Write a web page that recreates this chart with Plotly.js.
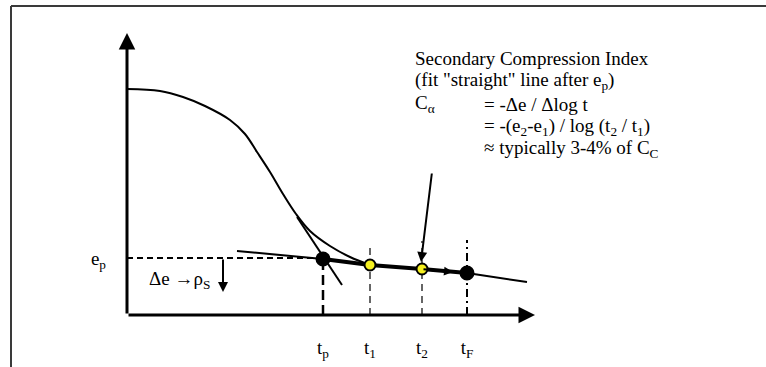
<!DOCTYPE html>
<html>
<head>
<meta charset="utf-8">
<script src="https://cdn.plot.ly/plotly-3.0.1.min.js"></script>
<style>html,body{margin:0;padding:0;background:#fff;}#chart{width:766px;height:367px;}</style>
</head>
<body>
<div id="chart"></div>
<script>
// ---- data (log time, void ratio; schematic units) ----
const curveLogT = [0.00, 0.33, 0.56, 0.78, 1.03, 1.18, 1.30, 1.43, 1.56, 1.69, 1.83, 2.03, 2.23, 2.43];
const curveE    = [2.26, 2.24, 2.18, 2.09, 1.95, 1.81, 1.63, 1.43, 1.21, 1.01, 0.84, 0.69, 0.58, 0.50];

const tangentLogT = [1.70, 2.15];
const tangentE    = [0.98, 0.30];

const secondaryLogT = [1.10, 1.96, 2.43, 2.95, 3.40, 4.00];
const secondaryE    = [0.64, 0.56, 0.50, 0.46, 0.42, 0.33];

const ep = 0.57;
const tickNames = ["t<sub>p</sub>", "t<sub>1</sub>", "t<sub>2</sub>", "t<sub>F</sub>"];
const tickLogT  = [1.96, 2.43, 2.95, 3.40];
const tickE     = [0.56, 0.50, 0.46, 0.42];
const guideTopE = [0.57, 0.72, 0.74, 0.75];

const axisMaxLogT = 4.08;
const axisMaxE = 2.82;

const FONT = "Liberation Serif";
const traces = [];

traces.push({x: curveLogT, y: curveE, mode: "lines", line: {color: "#000", width: 2, shape: "spline"}, hoverinfo: "skip"});
traces.push({x: tangentLogT, y: tangentE, mode: "lines", line: {color: "#000", width: 2}, hoverinfo: "skip"});
traces.push({x: secondaryLogT, y: secondaryE, mode: "lines", line: {color: "#000", width: 2}, hoverinfo: "skip"});
traces.push({x: secondaryLogT.slice(1, 5), y: secondaryE.slice(1, 5), mode: "lines", line: {color: "#000", width: 4}, hoverinfo: "skip"});
traces.push({x: [0, tickLogT[0]], y: [ep, ep], mode: "lines", line: {color: "#000", width: 2, dash: "6px,4px"}, hoverinfo: "skip"});
const guideStyles = [
  {width: 2.5, dash: "10px,5px"},
  {width: 1.2, dash: "7px,5px"},
  {width: 1.2, dash: "7px,5px"},
  {width: 2, dash: "8px,4px,2px,4px"}
];
tickLogT.forEach((v, i) => {
  traces.push({x: [v, v], y: [0, guideTopE[i]], mode: "lines",
    line: {color: "#000", width: guideStyles[i].width, dash: guideStyles[i].dash}, hoverinfo: "skip"});
});
const pointColors = ["#000", "#f5f020", "#f5f020", "#000"];
traces.push({x: tickLogT, y: tickE, mode: "markers",
  marker: {color: pointColors, opacity: 1, size: [13, 11, 11, 13], line: {color: "#000", width: 2}}, hoverinfo: "skip"});

function px2paperX(px) { return (px - 127) / 408; }
function px2paperY(py) { return (315 - py) / 282; }

function txt(text, x, y, xanchor, size) {
  return {text: text, x: x, y: y, xref: "x", yref: "y", xanchor: xanchor || "left", yanchor: "middle",
    showarrow: false, font: {family: FONT, size: size || 19, color: "#000"}};
}
function arrow(x, y, ax, ay, width, head, size) {
  return {x: x, y: y, ax: ax, ay: ay, xref: "x", yref: "y", axref: "x", ayref: "y", text: "",
    showarrow: true, arrowhead: head, arrowwidth: width, arrowsize: size, arrowcolor: "#000", standoff: 0, startstandoff: 0};
}

const annotations = [
  arrow(0, axisMaxE, 0, 0, 3, 2, 1.1),
  arrow(axisMaxLogT, 0, 0, 0, 3, 2, 1.1),
  arrow(0.96, 0.23, 0.96, 0.57, 2, 2, 1.0),
  arrow(2.94, 0.53, 3.05, 1.43, 2, 2, 1.0),
  arrow(3.26, 0.43, 2.95, 0.46, 2, 2, 0.9),
  txt("Void", -0.50, 2.32, "center"),
  txt("Ratio, e", -0.50, 2.02, "center"),
  txt("(from dial", -0.50, 1.74, "center"),
  txt("readings)", -0.50, 1.45, "center"),
  txt("Secondary Compression Index", 2.86, 2.57),
  txt("(fit \"straight\" line after e<sub>p</sub>)", 2.86, 2.34),
  txt("C<sub>α</sub>", 2.86, 2.11),
  txt("= -Δe / Δlog t", 3.55, 2.11),
  txt("= -(e<sub>2</sub>-e<sub>1</sub>) / log (t<sub>2</sub> / t<sub>1</sub>)", 3.55, 1.88),
  txt("≈ typically 3-4% of C<sub>C</sub>", 3.55, 1.66),
  txt("e<sub>p</sub>= void ratio at end of", 4.26, 0.50),
  txt("primary consolidation", 4.51, 0.27),
  txt("Δe →ρ<sub>S</sub>", 0.20, 0.35, "left", 19),
  txt("log time, t", 0.97, -0.32, "center")
];

const shapes = [
  {type: "line", xref: "paper", yref: "paper", x0: px2paperX(11), y0: px2paperY(6), x1: px2paperX(766), y1: px2paperY(6), line: {color: "#3a3a3a", width: 2}},
  {type: "line", xref: "paper", yref: "paper", x0: px2paperX(11), y0: px2paperY(6), x1: px2paperX(11), y1: px2paperY(367), line: {color: "#3a3a3a", width: 2}}
];

const layout = {
  width: 766, height: 367,
  margin: {l: 127, r: 231, t: 33, b: 52, pad: 0},
  paper_bgcolor: "#fff", plot_bgcolor: "#fff",
  font: {family: FONT, size: 19, color: "#000"},
  showlegend: false,
  xaxis: {range: [0, axisMaxLogT], showgrid: false, zeroline: false, showline: false,
    tickvals: tickLogT, ticktext: tickNames, ticks: "", ticklabelstandoff: 19,
    tickfont: {family: FONT, size: 19, color: "#000"}, fixedrange: true},
  yaxis: {range: [0, axisMaxE], showgrid: false, zeroline: false, showline: false,
    tickvals: [ep], ticktext: ["e<sub>p</sub>"], ticks: "", ticklabelstandoff: 20,
    tickfont: {family: FONT, size: 19, color: "#000"}, fixedrange: true},
  annotations: annotations,
  shapes: shapes
};

Plotly.newPlot("chart", traces, layout, {displayModeBar: false, staticPlot: true});
</script>
</body>
</html>
